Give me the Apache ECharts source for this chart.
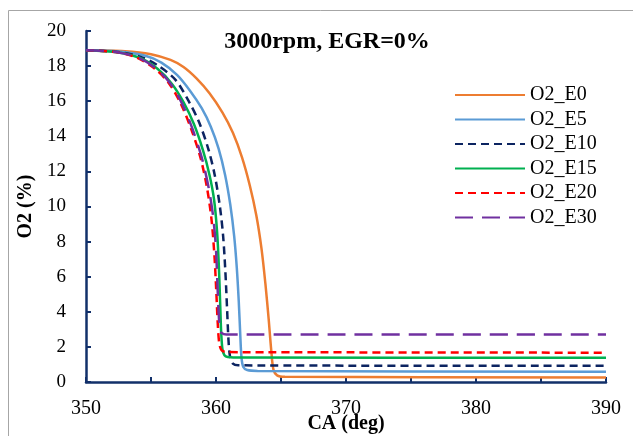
<!DOCTYPE html>
<html>
<head>
<meta charset="utf-8">
<script src="https://cdn.jsdelivr.net/npm/echarts@6/dist/echarts.min.js"></script>
<style>
html,body{margin:0;padding:0;background:#fff;overflow:hidden;width:633px;height:436px;}
#c{position:absolute;left:0;top:0;width:633px;height:436px;}
</style>
</head>
<body>
<div id="c"></div>
<script>
// ---- data ----
const seriesNames = ['O2_E0', 'O2_E5', 'O2_E10', 'O2_E15', 'O2_E20', 'O2_E30'];

const caE0  = [350, 353, 355, 356.5, 357.5, 358.5, 359.5, 360.5, 361.3, 362.0, 362.6, 363.1, 363.5, 363.8, 364.05, 364.25, 364.42, 364.7, 365.3, 390];
const o2E0  = [18.9, 18.85, 18.68, 18.35, 17.95, 17.3, 16.45, 15.35, 14.2, 12.8, 11.2, 9.5, 7.6, 5.6, 3.6, 1.8, 0.7, 0.38, 0.3, 0.25];

const caE5  = [350, 352.5, 354.5, 355.8, 357.0, 358.0, 358.9, 359.6, 360.2, 360.7, 361.1, 361.4, 361.6, 361.75, 361.86, 361.96, 362.1, 362.4, 363.2, 390];
const o2E5  = [18.9, 18.83, 18.6, 18.2, 17.5, 16.6, 15.6, 14.55, 13.3, 11.8, 10.1, 8.3, 6.5, 4.6, 2.8, 1.4, 0.85, 0.68, 0.63, 0.58];

const caE10 = [350, 352.5, 354.3, 355.6, 356.9, 357.9, 358.7, 359.4, 359.9, 360.3, 360.55, 360.72, 360.85, 360.96, 361.08, 361.3, 361.7, 390];
const o2E10 = [18.9, 18.8, 18.5, 18.0, 17.2, 16.0, 14.8, 13.3, 11.8, 10.0, 8.3, 6.3, 4.2, 2.4, 1.45, 1.05, 0.95, 0.92];

const caE15 = [350, 352.5, 354.2, 355.5, 356.6, 357.5, 358.3, 359.0, 359.5, 359.85, 360.08, 360.22, 360.32, 360.4, 360.5, 360.65, 360.9, 362, 390];
const o2E15 = [18.9, 18.78, 18.45, 17.85, 17.0, 15.95, 14.7, 13.2, 11.8, 10.4, 8.6, 6.6, 4.5, 2.8, 1.85, 1.52, 1.43, 1.4, 1.38];

const caE20 = [350, 352.5, 354.0, 355.3, 356.4, 357.3, 358.1, 358.8, 359.3, 359.65, 359.88, 360.02, 360.13, 360.25, 360.42, 360.7, 362, 390];
const o2E20 = [18.9, 18.78, 18.45, 17.85, 17.0, 15.85, 14.4, 12.8, 11.1, 9.3, 7.2, 5.2, 3.4, 2.2, 1.82, 1.72, 1.7, 1.67];

const caE30 = [350, 352.5, 354.1, 355.4, 356.5, 357.4, 358.2, 358.9, 359.4, 359.75, 359.98, 360.1, 360.2, 360.3, 360.45, 360.8, 390];
const o2E30 = [18.9, 18.78, 18.45, 17.85, 17.0, 15.85, 14.4, 12.8, 11.2, 9.6, 7.8, 5.8, 4.0, 3.05, 2.78, 2.7, 2.7];

const xTicks = [350, 360, 370, 380, 390];
const yTicks = [0, 2, 4, 6, 8, 10, 12, 14, 16, 18, 20];
const titleText = '3000rpm, EGR=0%';
const xName = 'CA (deg)';
const yName = 'O2 (%)';

// ---- styles ----
const colors = ['#ED7D31', '#5B9BD5', '#0C2461', '#00B050', '#FF0000', '#7030A0'];
const dashes = ['solid', 'solid', [8, 5], 'solid', [8, 5], [18, 9]];
const caArr = [caE0, caE5, caE10, caE15, caE20, caE30];
const o2Arr = [o2E0, o2E5, o2E10, o2E15, o2E20, o2E30];
const axisColor = '#12306a';
const serif = '"Liberation Serif", "Times New Roman", serif';

const chart = echarts.init(document.getElementById('c'), null, {renderer: 'canvas', width: 633, height: 436});

const series = seriesNames.map((n, i) => ({
  name: n,
  type: 'line',
  data: caArr[i].map((x, j) => [x, o2Arr[i][j]]),
  symbol: 'none',
  showSymbol: false,
  smooth: 0.3,
  lineStyle: {color: colors[i], width: 2.5, type: dashes[i]},
  itemStyle: {color: colors[i]},
  z: 2 + i
}));

chart.setOption({
  animation: false,
  backgroundColor: '#fff',
  grid: {left: 86, right: 27, top: 31, bottom: 54, containLabel: false, outerBoundsMode: 'none'},
  graphic: [
    {type: 'line', shape: {x1: 8.5, y1: 10.5, x2: 633, y2: 10.5}, style: {stroke: '#a6a6a6', lineWidth: 1}, silent: true},
    {type: 'line', shape: {x1: 8.5, y1: 10.5, x2: 8.5, y2: 436}, style: {stroke: '#a6a6a6', lineWidth: 1}, silent: true},
    {type: 'text', x: 327, y: 42, style: {text: titleText, font: 'bold 24px ' + serif, fill: '#000', textAlign: 'center', textVerticalAlign: 'middle'}, silent: true}
  ],
  legend: {
    data: seriesNames,
    orient: 'vertical',
    left: 449,
    top: 80,
    itemWidth: 70,
    itemHeight: 14,
    itemGap: 4.5,
    itemStyle: {opacity: 0},
    textStyle: {fontFamily: serif, fontSize: 20, color: '#000', lineHeight: 20}
  },
  xAxis: {
    type: 'value',
    min: 350, max: 390, interval: 5,
    name: xName,
    nameLocation: 'middle',
    nameGap: 32,
    nameMoveOverlap: false,
    nameTextStyle: {fontFamily: serif, fontSize: 20, fontWeight: 'bold', color: '#000'},
    axisLine: {show: true, onZero: false, lineStyle: {color: axisColor, width: 2.5}},
    axisTick: {show: true, inside: true, length: 5, lineStyle: {color: axisColor, width: 2}},
    axisLabel: {
      margin: 17,
      fontFamily: serif, fontSize: 20, color: '#000',
      formatter: v => (xTicks.indexOf(v) >= 0 ? String(v) : '')
    },
    splitLine: {show: false}
  },
  yAxis: {
    type: 'value',
    min: 0, max: 20, interval: 2,
    name: yName,
    nameLocation: 'middle',
    nameGap: 49,
    nameTextStyle: {fontFamily: serif, fontSize: 20, fontWeight: 'bold', color: '#000'},
    axisLine: {show: true, onZero: false, lineStyle: {color: axisColor, width: 2.5}},
    axisTick: {show: true, inside: true, length: 5, lineStyle: {color: axisColor, width: 2}},
    axisLabel: {
      margin: 20,
      fontFamily: serif, fontSize: 19, color: '#000',
      formatter: v => (yTicks.indexOf(v) >= 0 ? String(v) : '')
    },
    splitLine: {show: false}
  },
  series: series
});
</script>
</body>
</html>
